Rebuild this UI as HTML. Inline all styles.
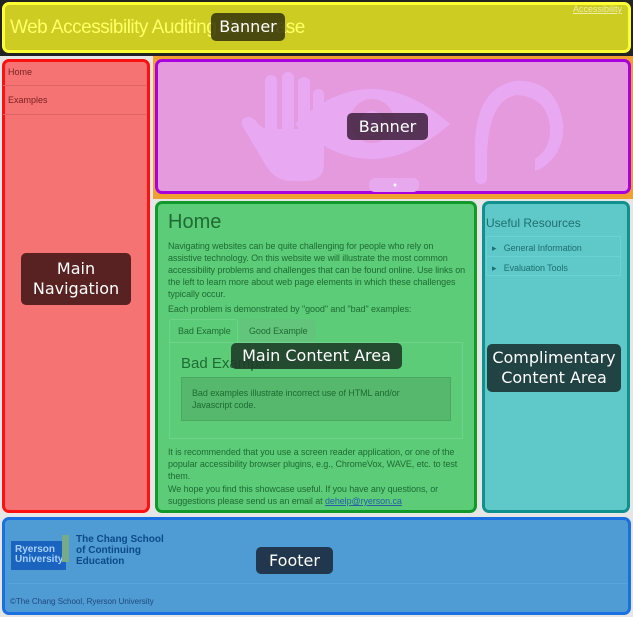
<!DOCTYPE html>
<html><head><meta charset="utf-8"><style>
*{margin:0;padding:0;box-sizing:border-box}
body{width:633px;height:617px;position:relative;background:#e6e6e6;font-family:"Liberation Sans",sans-serif;overflow:hidden}
.a{position:absolute}
.box{position:absolute;border-radius:7px;border:3px solid}
.lbl{position:absolute;background:rgba(30,30,30,.8);color:#fff;border-radius:5px;font-family:"DejaVu Sans","Liberation Sans",sans-serif;font-size:16px;text-align:center;line-height:20px;display:flex;align-items:center;justify-content:center}
.t{position:absolute;font-size:9px;color:#1f6b33;line-height:12px;letter-spacing:-0.08px}
</style></head><body>
<div class="a" style="left:0;top:0;width:633px;height:56px;background:#232323"></div>
<div class="box" style="left:2px;top:2px;width:629px;height:51px;background:#cccc22;border-color:#ffff33"></div>
<div class="a" style="left:10px;top:17px;font-size:19px;color:#ffff66;letter-spacing:-0.5px">Web Accessibility Auditing Showcase</div>
<div class="a" style="left:573px;top:4px;font-size:9px;color:#eeeeaa;text-decoration:underline">Accessibility</div>
<div class="lbl" style="left:211px;top:13px;width:74px;height:28px;background:rgba(50,50,10,.85)">Banner</div>

<div class="a" style="left:153px;top:56px;width:480px;height:143px;background:#f0a030"></div>
<div class="box" style="left:155px;top:59px;width:476px;height:135px;background:#e59ade;border-color:#aa00dd"></div>
<svg class="a" style="left:155px;top:59px" width="476" height="135">
<g fill="#e8a8f2">
<rect x="110" y="16" width="12" height="70" rx="6"/><rect x="127" y="13" width="12" height="75" rx="6"/><rect x="143" y="18" width="12" height="70" rx="6"/><rect x="158" y="30" width="11" height="58" rx="5"/>
<path d="M110 70 L169 70 L169 105 Q169 122 150 122 L135 122 Q120 122 110 105 L88 68 Q84 60 92 58 Q98 57 104 66 Z"/>
<path d="M140 65 Q215 -5 295 65 Q215 135 140 65 Z"/>
<circle cx="217" cy="62" r="22" fill="#e59ade"/>
<circle cx="217" cy="62" r="10"/>
<path d="M320 95 Q318 30 360 22 Q402 20 408 65 Q410 95 385 110 L380 112 L380 100 Q396 90 395 68 Q392 38 362 36 Q334 40 332 95 Z"/>
<rect x="320" y="75" width="12" height="50" rx="6"/>
</g>
<rect x="214" y="119" width="50" height="14" rx="6" fill="#e8a8ee"/>
<circle cx="240" cy="126" r="1.5" fill="#fff"/>
</svg>
<div class="lbl" style="left:347px;top:113px;width:81px;height:27px;background:rgba(60,30,60,.85)">Banner</div>

<div class="box" style="left:2px;top:59px;width:148px;height:454px;background:#f57373;border-color:#ff1010"></div>
<div class="a" style="left:8px;top:67px;font-size:9px;color:#7a1f1f">Home</div>
<div class="a" style="left:3px;top:85px;width:144px;border-top:1px solid #e06666"></div>
<div class="a" style="left:8px;top:95px;font-size:9px;color:#7a1f1f">Examples</div>
<div class="a" style="left:3px;top:114px;width:144px;border-top:1px solid #e06666"></div>
<div class="lbl" style="left:21px;top:253px;width:110px;height:52px;background:rgba(80,30,30,.95)">Main<br>Navigation</div>

<div class="box" style="left:155px;top:201px;width:322px;height:312px;background:#5ccc78;border-color:#119a2a"></div>
<div class="a" style="left:168px;top:211px;font-size:20px;color:#1f6b33">Home</div>
<div class="t" style="left:168px;top:240px;width:298px">Navigating websites can be quite challenging for people who rely on assistive technology. On this website we will illustrate the most common accessibility problems and challenges that can be found online. Use links on the left to learn more about web page elements in which these challenges typically occur.</div>
<div class="t" style="left:168px;top:303px">Each problem is demonstrated by "good" and "bad" examples:</div>
<div class="a" style="left:169px;top:319px;width:69px;height:24px;border:1px solid #6fd48a;border-bottom:none;border-radius:3px 3px 0 0"></div>
<div class="t" style="left:178px;top:325px">Bad Example</div>
<div class="a" style="left:240px;top:319px;width:76px;height:24px;background:#63c57b;border-radius:3px 3px 0 0"></div>
<div class="t" style="left:249px;top:325px">Good Example</div>
<div class="a" style="left:169px;top:342px;width:294px;height:97px;border:1px solid #6fd48a"></div>
<div class="a" style="left:181px;top:355px;font-size:15px;color:#1f6b33">Bad Example</div>
<div class="a" style="left:181px;top:377px;width:270px;height:44px;background:#56b86c;border:1px solid #4aa860"></div>
<div class="t" style="left:192px;top:387px;width:240px">Bad examples illustrate incorrect use of HTML and/or Javascript code.</div>
<div class="t" style="left:168px;top:446px;width:304px">It is recommended that you use a screen reader application, or one of the popular accessibility browser plugins, e.g., ChromeVox, WAVE, etc. to test them.</div>
<div class="t" style="left:168px;top:483px;width:290px">We hope you find this showcase useful. If you have any questions, or suggestions please send us an email at <u style="color:#2a5caa">dehelp@ryerson.ca</u></div>
<div class="lbl" style="left:231px;top:343px;width:171px;height:26px;background:rgba(30,60,40,.9)">Main Content Area</div>

<div class="box" style="left:482px;top:201px;width:148px;height:312px;background:#5fc8c8;border-color:#119090"></div>
<div class="a" style="left:486px;top:216px;font-size:12px;color:#1f7070">Useful Resources</div>
<div class="a" style="left:486px;top:236px;width:135px;height:40px;border:1px solid #6ad2d2"></div>
<div class="a" style="left:486px;top:256px;width:135px;border-top:1px solid #6ad2d2"></div>
<div class="t" style="left:492px;top:242px;color:#1f7070">▸&nbsp;&nbsp; General Information</div>
<div class="t" style="left:492px;top:262px;color:#1f7070">▸&nbsp;&nbsp; Evaluation Tools</div>
<div class="lbl" style="left:487px;top:344px;width:134px;height:48px;background:rgba(30,60,60,.95)">Complimentary<br>Content Area</div>

<div class="box" style="left:2px;top:517px;width:629px;height:98px;background:#4f9bd4;border-color:#1a70e0"></div>
<div class="a" style="left:11px;top:541px;width:55px;height:29px;background:#1a64c0;color:#a8d0ff;font-size:10px;font-weight:bold;line-height:10px;padding:4px 4px">Ryerson<br>University</div>
<div class="a" style="left:62px;top:535px;width:7px;height:27px;background:#77aa88"></div>
<div class="a" style="left:76px;top:534px;font-size:10px;font-weight:bold;color:#0d4a8a;line-height:11px">The Chang School<br>of Continuing<br>Education</div>
<div class="a" style="left:8px;top:583px;width:620px;border-top:1px solid #5aa4dc"></div>
<div class="a" style="left:10px;top:597px;font-size:8px;color:#1f4a7a">©The Chang School, Ryerson University</div>
<div class="lbl" style="left:256px;top:547px;width:77px;height:27px;background:rgba(30,50,70,.95)">Footer</div>
</body></html>
